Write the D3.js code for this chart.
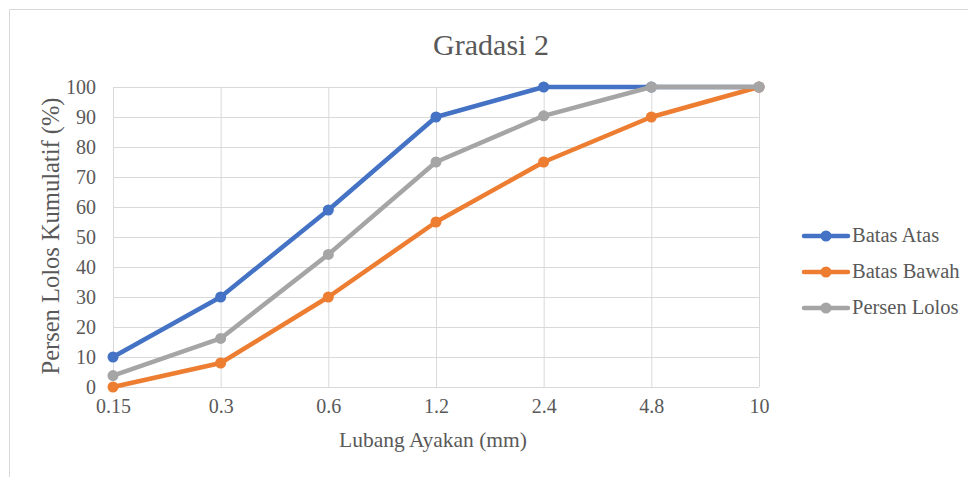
<!DOCTYPE html>
<html>
<head>
<meta charset="utf-8">
<script src="https://cdn.jsdelivr.net/npm/d3@7"></script>
<style>
  html, body { margin: 0; padding: 0; background: #fff; }
  svg { display: block; }
</style>
</head>
<body>
<svg id="chart" width="968" height="477"></svg>
<script>
// Sieve sizes (mm) and cumulative passing percentages
const sieveSizes = ["0.15", "0.3", "0.6", "1.2", "2.4", "4.8", "10"];
const batasAtas = [10, 30, 59, 90, 100, 100, 100];
const batasBawah = [0, 8, 30, 55, 75, 90, 100];
const persenLolos = [3.8, 16.2, 44.2, 75, 90.4, 100, 100];
const yTicks = [0, 10, 20, 30, 40, 50, 60, 70, 80, 90, 100];

const seriesList = [
  { name: "Batas Atas", values: batasAtas, color: "#4472C4" },
  { name: "Batas Bawah", values: batasBawah, color: "#ED7D31" },
  { name: "Persen Lolos", values: persenLolos, color: "#A5A5A5" }
];

const FONT = "Liberation Serif, Tinos, Times New Roman, serif";
const TXT = "#595959";

const svg = d3.select("#chart");
const plot = { left: 113, right: 759, top: 87, bottom: 387 };

// Chart frame
svg.append("path")
  .attr("d", "M9.5,477 L9.5,9.5 L968,9.5")
  .attr("fill", "none")
  .attr("stroke", "#d9d9d9");

const x = d3.scalePoint().domain(sieveSizes).range([plot.left, plot.right]);
const y = d3.scaleLinear().domain([0, 100]).range([plot.bottom, plot.top]);

function label(sel, size) {
  return sel.attr("font-family", FONT)
    .style("font-family", FONT)
    .attr("font-size", size)
    .style("font-size", size + "px")
    .attr("fill", TXT);
}

// Horizontal gridlines + y labels
const yAxis = svg.append("g").attr("transform", `translate(${plot.left},0)`)
  .call(d3.axisLeft(y).tickValues(yTicks).tickSize(-(plot.right - plot.left)).tickPadding(17));
yAxis.select(".domain").remove();
yAxis.selectAll(".tick line").attr("stroke", "#d9d9d9").attr("stroke-width", 1);
label(yAxis.selectAll(".tick text"), 20);

// Vertical gridlines + x labels
const xAxis = svg.append("g").attr("transform", `translate(0,${plot.bottom})`)
  .call(d3.axisBottom(x).tickSize(-(plot.bottom - plot.top)).tickPadding(12));
xAxis.select(".domain").remove();
xAxis.selectAll(".tick line").attr("stroke", "#d9d9d9").attr("stroke-width", 1);
label(xAxis.selectAll(".tick text"), 20);

// Series lines and markers
const line = d3.line().x((d, i) => x(sieveSizes[i])).y(d => y(d));
seriesList.forEach(s => {
  const g = svg.append("g");
  g.append("path")
    .attr("d", line(s.values))
    .attr("fill", "none")
    .attr("stroke", s.color)
    .attr("stroke-width", 4.5)
    .attr("stroke-linejoin", "round")
    .attr("stroke-linecap", "round");
  g.selectAll("circle").data(s.values).join("circle")
    .attr("cx", (d, i) => x(sieveSizes[i]))
    .attr("cy", d => y(d))
    .attr("r", 5.5)
    .attr("fill", s.color);
});

// Title
label(svg.append("text"), 30)
  .attr("x", 491).attr("y", 55)
  .attr("text-anchor", "middle")
  .text("Gradasi 2");

// Axis titles
label(svg.append("text"), 21.5)
  .attr("x", 433).attr("y", 447)
  .attr("text-anchor", "middle")
  .text("Lubang Ayakan (mm)");

label(svg.append("text"), 24.5)
  .attr("transform", "translate(59,236) rotate(-90)")
  .attr("text-anchor", "middle")
  .text("Persen Lolos Kumulatif (%)");

// Legend
seriesList.forEach((s, i) => {
  const ly = 236 + i * 36;
  svg.append("line")
    .attr("x1", 804).attr("x2", 848).attr("y1", ly).attr("y2", ly)
    .attr("stroke", s.color).attr("stroke-width", 4.5).attr("stroke-linecap", "round");
  svg.append("circle").attr("cx", 826).attr("cy", ly).attr("r", 5.5).attr("fill", s.color);
  label(svg.append("text"), 20.5)
    .attr("x", 852).attr("y", ly + 6)
    .text(s.name);
});
</script>
</body>
</html>
